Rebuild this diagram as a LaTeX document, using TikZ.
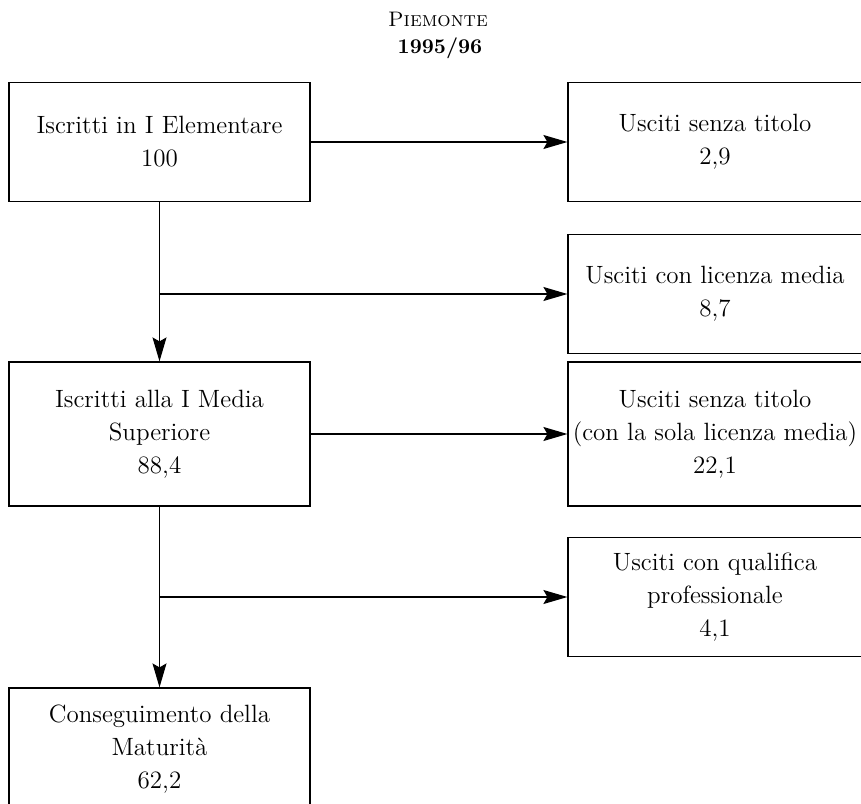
\documentclass[tikz,border=0pt]{standalone}
\usepackage{tikz}
\usetikzlibrary{arrows.meta,positioning}

\begin{document}
\begin{tikzpicture}[
  x=0.5pt, y=-0.5pt,
  box/.style={rectangle, draw, line width=0.6pt, minimum width=150.5pt,
              minimum height=59.5pt, inner sep=0pt, align=center,
              font=\fontsize{12.5}{16.5}\selectfont},
  outbox/.style={box, minimum width=147pt},
  arrow/.style={-{Stealth[length=12pt, width=7pt, inset=2pt]}, line width=0.6pt}
]
  \useasboundingbox (0,0) rectangle (861,803);
  \clip (0,0) rectangle (861,803);

  \node[font=\fontsize{10.5}{12}\selectfont] (region) at (438,19) {\textsc{Piemonte}};
  \node[font=\fontsize{10.5}{12}\selectfont\bfseries] (year) at (440,48) {1995/96};

  \node[box] (elem) at (159.5,142) {Iscritti in I Elementare\\100};
  \node[box, minimum height=72pt] (media) at (159.5,434) {Iscritti alla I Media\\Superiore\\88,4};
  \node[box, minimum height=61pt] (matur) at (159.5,749) {Conseguimento della\\Maturità\\62,2};

  \node[outbox] (out1) at (715,142) {Usciti senza titolo\\2,9};
  \node[outbox] (out2) at (715,294) {Usciti con licenza media\\8,7};
  \node[outbox, minimum height=72pt] (out3) at (715,434) {Usciti senza titolo\\(con la sola licenza media)\\22,1};
  \node[outbox] (out4) at (715,597) {Usciti con qualifica\\professionale\\4,1};

  \coordinate (split1) at (elem.south |- out2.west);
  \coordinate (split2) at (media.south |- out4.west);

  \draw[arrow] (elem) -- (out1);
  \draw[arrow] (elem) -- (media);
  \draw[arrow] (split1) -- (out2);
  \draw[arrow] (media) -- (out3);
  \draw[arrow] (media) -- (matur);
  \draw[arrow] (split2) -- (out4);
\end{tikzpicture}
\end{document}
